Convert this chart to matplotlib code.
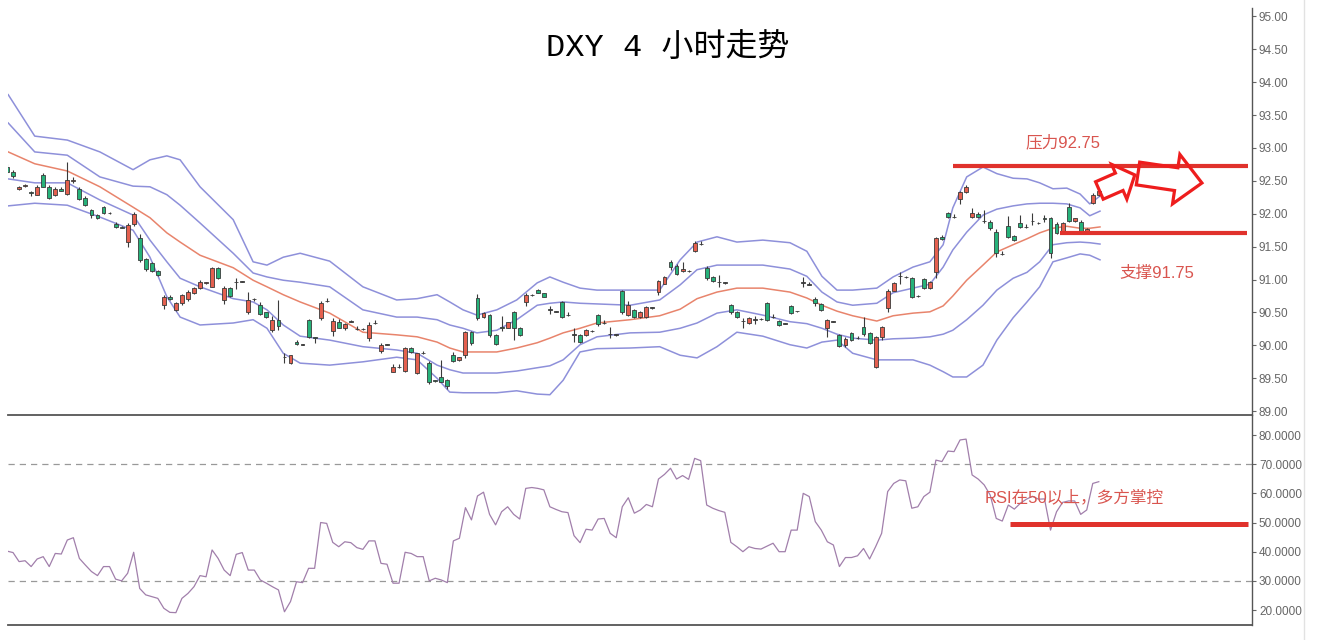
import matplotlib
matplotlib.use('Agg')
import matplotlib.pyplot as plt
import numpy as np
from matplotlib.patches import Polygon
from matplotlib.transforms import IdentityTransform
from matplotlib.lines import Line2D
from matplotlib.ticker import FixedLocator, FormatStrFormatter

# ---------------- data ----------------
title = 'DXY 4 小时走势'

opens = [92.71, 92.64, 92.38, 92.42, 92.33, 92.29, 92.59, 92.41, 92.29, 92.38,
         92.30, 92.50, 92.38, 92.24, 92.06, 91.98, 92.10, 92.01, 91.84, 91.80,
         91.57, 91.84, 91.63, 91.31, 91.25, 91.13, 90.62, 90.74, 90.54, 90.64,
         90.70, 90.80, 90.87, 90.95, 90.89, 91.18, 90.69, 90.87, 90.97, 90.97,
         90.50, 90.70, 90.62, 90.50, 90.23, 90.39, 89.83, 89.73, 90.05, 90.01,
         90.38, 90.12, 90.41, 90.67, 90.22, 90.35, 90.26, 90.36, 90.25, 90.25,
         90.11, 90.34, 89.91, 90.01, 89.60, 89.67, 89.61, 89.96, 89.58, 89.88,
         89.73, 89.47, 89.52, 89.47, 89.86, 89.78, 89.85, 90.20, 90.72, 90.43,
         90.46, 90.16, 90.28, 90.27, 90.51, 90.26, 90.66, 90.76, 90.84, 90.79,
         90.54, 90.51, 90.66, 90.46, 90.16, 90.16, 90.16, 90.22, 90.46, 90.34,
         90.17, 90.16, 90.82, 90.46, 90.54, 90.43, 90.43, 90.57, 90.81, 90.94,
         91.27, 91.21, 91.13, 91.13, 91.43, 91.54, 91.18, 91.04, 90.96, 90.95,
         90.61, 90.51, 90.37, 90.34, 90.39, 90.40, 90.64, 90.43, 90.37, 90.33,
         90.60, 90.52, 90.95, 90.92, 90.70, 90.63, 90.27, 90.36, 90.16, 90.00,
         90.19, 90.11, 90.28, 90.19, 89.67, 90.13, 90.57, 90.83, 91.05, 91.04,
         91.02, 90.75, 91.01, 90.87, 91.12, 91.65, 92.01, 91.95, 92.22, 92.33,
         91.95, 92.00, 91.89, 91.88, 91.72, 91.39, 91.81, 91.66, 91.86, 91.80,
         91.89, 91.86, 91.93, 91.93, 91.85, 91.72, 92.10, 91.89, 91.88, 91.74,
         92.17, 92.29]
highs = [92.75, 92.67, 92.42, 92.45, 92.34, 92.43, 92.62, 92.43, 92.40, 92.40,
         92.79, 92.56, 92.41, 92.27, 92.08, 91.99, 92.12, 92.02, 91.87, 91.81,
         91.86, 92.02, 91.70, 91.33, 91.27, 91.14, 90.76, 90.76, 90.66, 90.78,
         90.84, 90.88, 90.99, 90.97, 91.19, 91.19, 90.90, 90.89, 91.02, 90.98,
         90.81, 90.72, 90.66, 90.51, 90.44, 90.69, 89.88, 89.86, 90.08, 90.02,
         90.40, 90.13, 90.67, 90.72, 90.41, 90.40, 90.34, 90.38, 90.30, 90.26,
         90.36, 90.38, 90.03, 90.02, 89.72, 89.71, 89.97, 89.97, 89.89, 89.92,
         89.76, 89.48, 89.78, 89.49, 89.90, 89.83, 90.22, 90.22, 90.78, 90.50,
         90.48, 90.18, 90.45, 90.36, 90.53, 90.28, 90.79, 90.78, 90.86, 90.80,
         90.60, 90.52, 90.68, 90.50, 90.27, 90.17, 90.25, 90.23, 90.48, 90.38,
         90.28, 90.17, 90.84, 90.67, 90.56, 90.53, 90.60, 90.58, 91.00, 91.06,
         91.29, 91.23, 91.27, 91.14, 91.58, 91.58, 91.20, 91.05, 91.07, 90.96,
         90.63, 90.52, 90.42, 90.43, 90.44, 90.41, 90.66, 90.47, 90.38, 90.34,
         90.62, 90.53, 91.04, 90.96, 90.74, 90.65, 90.40, 90.37, 90.18, 90.12,
         90.21, 90.15, 90.43, 90.21, 90.15, 90.30, 90.85, 90.97, 91.12, 91.05,
         91.04, 90.76, 91.03, 90.98, 91.65, 91.68, 92.03, 91.99, 92.35, 92.43,
         92.09, 92.02, 92.06, 91.90, 91.77, 91.43, 91.96, 91.68, 91.98, 91.84,
         92.01, 91.87, 91.98, 91.95, 91.87, 91.88, 92.16, 91.94, 91.90, 91.78,
         92.31, 92.37]
lows = [92.62, 92.55, 92.36, 92.40, 92.27, 92.28, 92.40, 92.22, 92.27, 92.34,
        92.29, 92.47, 92.21, 92.12, 91.94, 91.92, 91.99, 92.00, 91.78, 91.78,
        91.50, 91.82, 91.26, 91.13, 91.11, 91.05, 90.55, 90.69, 90.52, 90.62,
        90.68, 90.78, 90.86, 90.94, 90.88, 91.01, 90.63, 90.74, 90.86, 90.96,
        90.47, 90.68, 90.46, 90.41, 90.20, 90.23, 89.73, 89.72, 90.01, 90.00,
        90.11, 90.03, 90.39, 90.66, 90.15, 90.26, 90.24, 90.35, 90.24, 90.24,
        90.07, 90.33, 89.89, 90.00, 89.59, 89.66, 89.60, 89.89, 89.56, 89.87,
        89.41, 89.45, 89.44, 89.33, 89.75, 89.77, 89.81, 90.01, 90.38, 90.42,
        90.13, 90.00, 90.22, 90.26, 90.08, 90.14, 90.60, 90.75, 90.79, 90.73,
        90.48, 90.50, 90.41, 90.45, 90.05, 90.03, 90.15, 90.21, 90.30, 90.33,
        90.11, 90.15, 90.48, 90.44, 90.41, 90.42, 90.41, 90.56, 90.76, 90.93,
        91.15, 91.07, 91.12, 91.12, 91.42, 91.53, 91.00, 90.96, 90.89, 90.94,
        90.48, 90.41, 90.27, 90.33, 90.33, 90.39, 90.37, 90.42, 90.29, 90.32,
        90.47, 90.51, 90.89, 90.91, 90.60, 90.52, 90.12, 90.35, 89.97, 89.98,
        90.06, 90.10, 90.15, 90.02, 89.66, 90.08, 90.51, 90.82, 90.93, 91.03,
        90.72, 90.74, 90.85, 90.86, 91.03, 91.60, 91.93, 91.94, 92.15, 92.32,
        91.94, 91.94, 91.86, 91.76, 91.35, 91.38, 91.63, 91.59, 91.79, 91.79,
        91.83, 91.85, 91.88, 91.33, 91.69, 91.70, 91.87, 91.88, 91.72, 91.73,
        92.15, 92.27]
closes = [92.64, 92.58, 92.40, 92.43, 92.31, 92.41, 92.41, 92.24, 92.38, 92.35,
          92.51, 92.52, 92.23, 92.13, 91.98, 91.94, 92.01, 92.01, 91.80, 91.79,
          91.83, 92.00, 91.30, 91.16, 91.13, 91.07, 90.74, 90.70, 90.64, 90.77,
          90.81, 90.87, 90.97, 90.96, 91.18, 91.03, 90.87, 90.75, 90.96, 90.97,
          90.69, 90.71, 90.48, 90.43, 90.39, 90.29, 89.82, 89.85, 90.02, 90.01,
          90.12, 90.11, 90.64, 90.68, 90.37, 90.27, 90.33, 90.36, 90.25, 90.25,
          90.31, 90.34, 90.01, 90.01, 89.67, 89.67, 89.96, 89.90, 89.88, 89.88,
          89.44, 89.46, 89.45, 89.38, 89.77, 89.82, 90.20, 90.03, 90.41, 90.49,
          90.16, 90.02, 90.27, 90.35, 90.26, 90.16, 90.77, 90.76, 90.80, 90.74,
          90.54, 90.51, 90.43, 90.46, 90.16, 90.05, 90.23, 90.22, 90.32, 90.34,
          90.17, 90.16, 90.50, 90.62, 90.43, 90.51, 90.58, 90.57, 90.98, 91.04,
          91.19, 91.09, 91.16, 91.13, 91.56, 91.54, 91.02, 90.98, 90.96, 90.95,
          90.50, 90.43, 90.37, 90.41, 90.39, 90.40, 90.39, 90.43, 90.31, 90.33,
          90.49, 90.52, 90.95, 90.92, 90.64, 90.54, 90.38, 90.36, 89.99, 90.10,
          90.08, 90.11, 90.17, 90.04, 90.13, 90.28, 90.83, 90.95, 91.05, 91.04,
          90.74, 90.75, 90.87, 90.96, 91.63, 91.61, 91.95, 91.95, 92.33, 92.41,
          92.01, 91.95, 91.89, 91.78, 91.40, 91.39, 91.65, 91.60, 91.80, 91.80,
          91.89, 91.86, 91.92, 91.40, 91.71, 91.86, 91.89, 91.93, 91.74, 91.77,
          92.29, 92.35]

# Bollinger style bands read at sample candle positions
band_x = [0.2, 4.6, 10.0, 15.4, 20.9, 23.7, 26.5, 28.7, 32.0, 37.5,
          40.8, 43.1, 45.8, 48.6, 53.5, 59.0, 64.6, 68.0, 71.3, 73.4,
          75.6, 77.9, 81.2, 84.5, 87.9, 90.0, 92.2, 95.0, 97.8, 103.3,
          108.2, 111.6, 114.4, 117.7, 121.0, 125.3, 129.8, 132.6, 135.1, 137.6,
          140.2, 144.2, 146.9, 150.2, 153.0, 155.2, 156.8, 159.1, 161.8, 164.1,
          166.8, 169.1, 171.2, 173.4, 175.7, 177.9, 179.5, 181.2]
band_outer_up = [93.81, 93.18, 93.12, 92.94, 92.67, 92.82, 92.88, 92.82, 92.41, 91.91,
                 91.27, 91.22, 91.34, 91.40, 91.28, 90.89, 90.69, 90.71, 90.77, 90.66,
                 90.54, 90.46, 90.54, 90.69, 90.95, 91.04, 90.96, 90.87, 90.84, 90.84,
                 90.84, 91.30, 91.57, 91.65, 91.57, 91.60, 91.56, 91.43, 91.05, 90.84,
                 90.84, 90.87, 91.04, 91.19, 91.27, 91.53, 92.09, 92.56, 92.71, 92.61,
                 92.54, 92.53, 92.47, 92.38, 92.39, 92.30, 92.15, 92.27]
band_inner_up = [93.38, 92.94, 92.89, 92.56, 92.42, 92.41, 92.29, 92.13, 91.86, 91.40,
                 91.10, 91.04, 90.99, 90.96, 90.89, 90.54, 90.43, 90.43, 90.39, 90.31,
                 90.26, 90.19, 90.23, 90.39, 90.61, 90.64, 90.66, 90.64, 90.63, 90.61,
                 90.69, 90.92, 91.15, 91.22, 91.22, 91.22, 91.16, 91.05, 90.81, 90.66,
                 90.61, 90.64, 90.80, 90.87, 90.93, 91.19, 91.45, 91.72, 91.98, 92.07,
                 92.12, 92.15, 92.16, 92.16, 92.15, 92.09, 91.97, 92.04]
band_mid = [92.94, 92.76, 92.65, 92.41, 92.10, 91.94, 91.71, 91.57, 91.37, 91.18,
            90.99, 90.89, 90.77, 90.66, 90.49, 90.20, 90.16, 90.13, 90.05, 89.96,
            89.90, 89.90, 89.90, 89.96, 90.04, 90.11, 90.19, 90.26, 90.34, 90.39,
            90.45, 90.55, 90.71, 90.81, 90.87, 90.87, 90.81, 90.72, 90.61, 90.52,
            90.45, 90.37, 90.45, 90.49, 90.51, 90.60, 90.75, 90.99, 91.22, 91.42,
            91.53, 91.62, 91.71, 91.78, 91.81, 91.78, 91.78, 91.80]
band_inner_low = [92.53, 92.47, 92.47, 92.21, 91.98, 91.60, 91.27, 91.02, 90.89, 90.71,
                  90.66, 90.54, 90.31, 90.14, 90.08, 89.98, 89.93, 89.88, 89.70, 89.63,
                  89.58, 89.58, 89.58, 89.61, 89.66, 89.69, 89.78, 90.01, 90.13, 90.19,
                  90.20, 90.26, 90.34, 90.49, 90.54, 90.46, 90.36, 90.33, 90.26, 90.17,
                  90.11, 90.08, 90.10, 90.11, 90.13, 90.17, 90.23, 90.39, 90.61, 90.84,
                  91.02, 91.11, 91.27, 91.53, 91.56, 91.57, 91.56, 91.54]
band_outer_low = [92.12, 92.16, 92.13, 91.95, 91.75, 91.34, 90.74, 90.43, 90.31, 90.34,
                  90.39, 90.26, 89.88, 89.73, 89.70, 89.75, 89.82, 89.78, 89.50, 89.29,
                  89.28, 89.28, 89.28, 89.31, 89.26, 89.25, 89.47, 89.90, 89.95, 89.96,
                  89.98, 89.85, 89.81, 89.98, 90.20, 90.14, 90.01, 89.96, 90.05, 90.08,
                  89.88, 89.78, 89.78, 89.78, 89.70, 89.60, 89.52, 89.52, 89.70, 90.08,
                  90.42, 90.66, 90.89, 91.27, 91.33, 91.39, 91.37, 91.30]

rsi = [40.2, 39.7, 36.6, 36.9, 34.9, 37.5, 38.3, 34.9, 39.4, 39.2,
       44.0, 44.8, 37.7, 35.4, 33.2, 31.8, 34.9, 34.9, 30.6, 30.0,
       32.6, 39.8, 27.4, 25.2, 24.6, 24.0, 20.6, 19.2, 19.1, 24.0,
       25.7, 28.0, 31.8, 31.4, 40.6, 37.7, 33.7, 31.8, 39.1, 39.7,
       33.7, 33.7, 30.3, 29.2, 28.0, 26.9, 19.4, 22.9, 29.7, 29.4,
       34.3, 34.3, 50.0, 49.7, 43.2, 41.7, 43.4, 43.1, 41.4, 40.8,
       43.7, 43.7, 36.0, 35.7, 29.2, 29.2, 39.8, 39.4, 38.3, 38.3,
       30.0, 30.9, 30.3, 29.4, 43.7, 44.6, 55.1, 50.9, 59.1, 60.4,
       52.8, 49.2, 53.7, 55.4, 52.8, 51.2, 61.7, 62.0, 61.7, 61.2,
       55.4, 54.5, 53.7, 53.4, 45.5, 43.1, 47.7, 47.4, 51.2, 51.4,
       46.3, 44.8, 55.4, 58.5, 53.2, 54.3, 56.2, 55.4, 64.9, 66.5,
       68.6, 64.9, 66.1, 64.8, 72.0, 71.2, 56.0, 54.9, 54.1, 53.5,
       43.2, 41.7, 40.0, 41.7, 41.1, 40.9, 41.9, 42.9, 40.0, 40.0,
       47.4, 47.4, 60.0, 58.9, 50.3, 47.4, 43.4, 42.3, 34.9, 38.0,
       38.0, 38.6, 41.1, 37.5, 41.7, 46.3, 60.6, 63.4, 64.6, 64.3,
       54.9, 55.4, 58.9, 60.4, 71.4, 70.9, 74.5, 74.3, 78.3, 78.6,
       66.3, 64.9, 62.9, 59.4, 51.4, 50.5, 56.0, 54.6, 56.6, 58.0,
       59.0, 58.0, 58.1, 47.4, 53.7, 56.9, 57.4, 57.4, 52.8, 54.3,
       63.4, 64.0]

price_ticks = [89.0, 89.5, 90.0, 90.5, 91.0, 91.5, 92.0, 92.5, 93.0, 93.5, 94.0, 94.5, 95.0]
rsi_ticks = [20, 30, 40, 50, 60, 70, 80]
rsi_levels = [30, 70]

resistance = 92.72
support = 91.71
rsi_mid = 49.4
resistance_label = '压力92.75'
support_label = '支撑91.75'
rsi_label = 'RSI在50以上，多方掌控'

# ---------------- style ----------------
W, H = 1322, 640
RED_UP = '#e4604f'
GREEN_DN = '#26b27a'
EDGE = '#3a3a3a'
BAND = '#8e90da'
MID = '#e8846c'
LEVEL = '#e0322c'
ARROW = '#ee1d1d'
TXT_RED = '#d9554f'
AXIS = '#555555'
LABEL = '#666666'

fig = plt.figure(figsize=(W / 100, H / 100), dpi=100)
fig.patch.set_facecolor('white')


def px_rect(l, t, r, b):
    return [l / W, (H - b) / H, (r - l) / W, (b - t) / H]


ax1 = fig.add_axes(px_rect(8, 8, 1252, 415))
ax2 = fig.add_axes(px_rect(8, 415, 1252, 625))

xlim = (0.166, 206.4)
n = len(opens)
x = np.arange(n)
o = np.array(opens); c = np.array(closes); hi = np.array(highs); lo = np.array(lows)

# ---- price panel ----
for arr in [band_outer_up, band_inner_up, band_inner_low, band_outer_low]:
    ax1.plot(band_x, arr, color=BAND, lw=1.1, zorder=1)
ax1.plot(band_x, band_mid, color=MID, lw=1.1, zorder=1)

colors = [RED_UP if cc > oo else (GREEN_DN if cc < oo else EDGE) for oo, cc in zip(o, c)]
bottoms = np.minimum(o, c)
heights = np.maximum(np.abs(c - o), 0.006)
ax1.vlines(x, lo, hi, color=EDGE, lw=0.8, zorder=2)
ax1.bar(x, heights, bottom=bottoms, width=0.64, color=colors, edgecolor=EDGE,
        linewidth=0.6, zorder=3)

ax1.hlines(resistance, 156.8, 205.8, color=LEVEL, lw=3.0, zorder=4)
ax1.hlines(support, 174.5, 205.5, color=LEVEL, lw=3.0, zorder=4)

cjk = ['Liberation Sans', 'Noto Sans CJK SC']
ax1.text(175.0, 93.09, resistance_label, color=TXT_RED, fontsize=12, ha='center',
         va='center', family=cjk)
ax1.text(190.6, 91.10, support_label, color=TXT_RED, fontsize=12, ha='center',
         va='center', family=cjk)

ax1.set_xlim(*xlim)
ax1.set_ylim(88.942, 95.127)

# ---- RSI panel ----
ax2.plot(x, rsi, color='#a17fab', lw=0.9, zorder=2)
for lv in rsi_levels:
    ax2.axhline(lv, color='#999999', lw=0.9, ls=(0, (5, 4)), zorder=1)
ax2.hlines(rsi_mid, 166.3, 205.8, color=LEVEL, lw=3.6, zorder=3)
ax2.text(162.0, 58.75, rsi_label, color=TXT_RED, fontsize=12, ha='left', va='center',
         family=cjk, zorder=4)
ax2.set_xlim(*xlim)
ax2.set_ylim(14.87, 86.86)

for ax, ticks, fmt in [(ax1, price_ticks, '%.2f'), (ax2, rsi_ticks, '%.4f')]:
    ax.set_facecolor('none')
    for s in ['left', 'top']:
        ax.spines[s].set_visible(False)
    ax.spines['right'].set_color(AXIS)
    ax.spines['right'].set_linewidth(1.0)
    ax.spines['bottom'].set_color(AXIS)
    ax.spines['bottom'].set_linewidth(1.3)
    ax.yaxis.tick_right()
    ax.yaxis.set_major_locator(FixedLocator(ticks))
    ax.yaxis.set_major_formatter(FormatStrFormatter(fmt))
    ax.tick_params(axis='y', direction='out', length=3, width=0.8, color=LABEL,
                   labelcolor=LABEL, labelsize=8.5, pad=2)
    ax.set_xticks([])
    for lbl in ax.get_yticklabels():
        lbl.set_family('Liberation Sans')

# ---- hollow block arrows ----
def block_arrow(ax, tail, tip, shaft_w, head_w, head_len):
    p0 = ax.transData.transform(tail)
    p1 = ax.transData.transform(tip)
    d = p1 - p0
    L = np.hypot(*d)
    u = d / L
    nrm = np.array([-u[1], u[0]])
    base = p1 - u * head_len
    pts = [p0 + nrm * shaft_w / 2, base + nrm * shaft_w / 2, base + nrm * head_w / 2, p1,
           base - nrm * head_w / 2, base - nrm * shaft_w / 2, p0 - nrm * shaft_w / 2]
    fig.add_artist(Polygon(pts, closed=True, fill=False, edgecolor=ARROW, lw=2.3,
                           joinstyle='miter', transform=IdentityTransform(), zorder=10))

block_arrow(ax1, (181.1, 92.354), (186.97, 92.59), 19, 38, 17)
block_arrow(ax1, (187.5, 92.612), (198.1, 92.468), 23, 50, 26)

# ---- title and frame ----
fig.text(668 / W, (H - 48) / H, title, ha='center', va='center', fontsize=23,
         family=['Liberation Mono', 'Noto Sans CJK SC'], color='black')
fig.add_artist(Line2D([1304 / W, 1304 / W], [0, 1], color='#e2e2e2', lw=1,
                      transform=fig.transFigure))

fig.savefig('out.png', dpi=100)
